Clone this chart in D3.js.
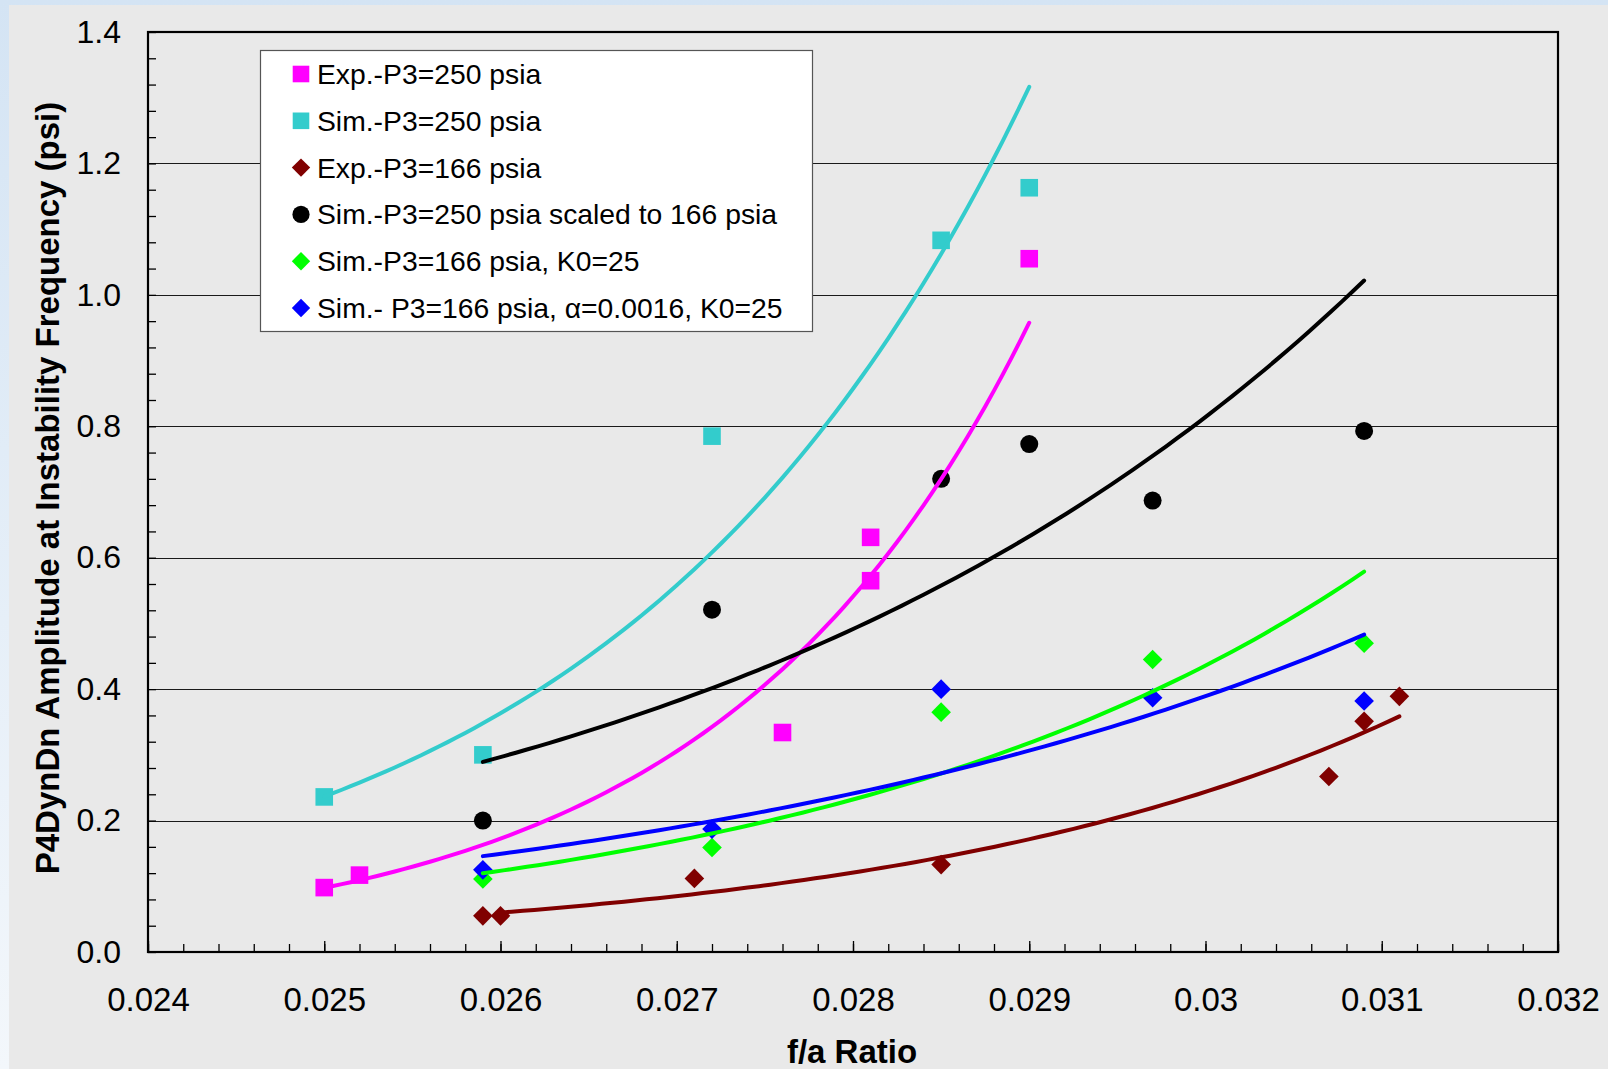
<!DOCTYPE html>
<html>
<head>
<meta charset="utf-8">
<script src="https://cdn.jsdelivr.net/npm/d3@7/dist/d3.min.js"></script>
<style>
  html, body { margin: 0; padding: 0; background: #dde9f5; }
  svg { display: block; font-family: Arial, "Liberation Sans", sans-serif; }
</style>
</head>
<body>
<svg id="chart" width="1608" height="1069"></svg>
<script>
// ---------------- data ----------------
const seriesNames = [
  "Exp.-P3=250 psia",
  "Sim.-P3=250 psia",
  "Exp.-P3=166 psia",
  "Sim.-P3=250 psia scaled to 166 psia",
  "Sim.-P3=166 psia, K0=25",
  "Sim.- P3=166 psia, \u03b1=0.0016, K0=25"
];
const seriesColors = ["#ff00ff", "#33cccc", "#800000", "#000000", "#00ff00", "#0000ff"];
const seriesSymbols = ["square", "square", "diamond", "circle", "diamond", "diamond"];

const exp250X = [0.0250, 0.0252, 0.0276, 0.0281, 0.0281, 0.0290];
const exp250Y = [0.098, 0.117, 0.334, 0.565, 0.631, 1.055];

const sim250X = [0.0250, 0.0259, 0.0272, 0.0285, 0.0290];
const sim250Y = [0.236, 0.300, 0.785, 1.083, 1.163];

const exp166X = [0.0259, 0.0260, 0.0271, 0.0285, 0.0307, 0.0309, 0.0311];
const exp166Y = [0.055, 0.055, 0.112, 0.133, 0.267, 0.351, 0.389];

const scaledX = [0.0259, 0.0272, 0.0285, 0.0290, 0.0297, 0.0309];
const scaledY = [0.200, 0.521, 0.720, 0.773, 0.687, 0.793];

const sim166K0X = [0.0259, 0.0272, 0.0285, 0.0297, 0.0309];
const sim166K0Y = [0.111, 0.159, 0.365, 0.445, 0.470];

const sim166AlphaX = [0.0259, 0.0272, 0.0285, 0.0297, 0.0309];
const sim166AlphaY = [0.125, 0.187, 0.400, 0.387, 0.382];

// x-extent of each exponential trendline as drawn in the picture
const trendRanges = [
  [0.0250, 0.0290],
  [0.0250, 0.0290],
  [0.0260, 0.0311],
  [0.0259, 0.0309],
  [0.0259, 0.0309],
  [0.0259, 0.0309]
];

const xTickValues = [0.024, 0.025, 0.026, 0.027, 0.028, 0.029, 0.030, 0.031, 0.032];
const xTickLabels = ["0.024", "0.025", "0.026", "0.027", "0.028", "0.029", "0.03", "0.031", "0.032"];
const yTickValues = [0.0, 0.2, 0.4, 0.6, 0.8, 1.0, 1.2, 1.4];
const yTickLabels = ["0.0", "0.2", "0.4", "0.6", "0.8", "1.0", "1.2", "1.4"];

const xTitle = "f/a Ratio";
const yTitle = "P4DynDn Amplitude at Instability Frequency (psi)";

// ---------------- build ----------------
const seriesX = [exp250X, sim250X, exp166X, scaledX, sim166K0X, sim166AlphaX];
const seriesY = [exp250Y, sim250Y, exp166Y, scaledY, sim166K0Y, sim166AlphaY];
const series = seriesNames.map((name, i) => ({
  name, color: seriesColors[i], symbol: seriesSymbols[i],
  points: seriesX[i].map((x, j) => ({ x, y: seriesY[i][j] })),
  range: trendRanges[i]
}));

const W = 1608, H = 1069;
const plot = { left: 148, right: 1558, top: 32, bottom: 952 };

const svg = d3.select("#chart");
const defs = svg.append("defs");
const grad = defs.append("linearGradient").attr("id", "bgGrad")
  .attr("x1", 0).attr("y1", 0).attr("x2", 0).attr("y2", 1);
grad.append("stop").attr("offset", "0%").attr("stop-color", "#d4e4f4");
grad.append("stop").attr("offset", "100%").attr("stop-color", "#f3f7fb");

svg.append("rect").attr("width", W).attr("height", H).attr("fill", "url(#bgGrad)");
svg.append("rect").attr("x", 9).attr("y", 5).attr("width", W - 9).attr("height", H - 5)
  .attr("fill", "#e9e9e9");

const x = d3.scaleLinear().domain([0.024, 0.032]).range([plot.left, plot.right]);
const y = d3.scaleLinear().domain([0, 1.4]).range([plot.bottom, plot.top]);

// gridlines
svg.append("g").selectAll("line")
  .data(yTickValues.filter(v => v > 0 && v < 1.4))
  .join("line")
  .attr("x1", plot.left).attr("x2", plot.right)
  .attr("y1", d => Math.round(y(d)) + 0.5).attr("y2", d => Math.round(y(d)) + 0.5)
  .attr("stroke", "#1a1a1a").attr("stroke-width", 1.2);

// minor ticks
const xMinor = d3.range(0, 41).map(i => 0.024 + i * 0.0002);
svg.append("g")
  .attr("transform", `translate(0,${plot.bottom})`)
  .call(d3.axisBottom(x).tickValues(xMinor).tickSize(-8).tickSizeOuter(0).tickFormat(""))
  .call(g => g.select(".domain").remove())
  .call(g => g.selectAll("line").attr("stroke", "#000").attr("stroke-width", 1.3));
const yMinor = d3.range(0, 36).map(i => i * 0.04);
svg.append("g")
  .attr("transform", `translate(${plot.left},0)`)
  .call(d3.axisLeft(y).tickValues(yMinor).tickSize(-8).tickSizeOuter(0).tickFormat(""))
  .call(g => g.select(".domain").remove())
  .call(g => g.selectAll("line").attr("stroke", "#000").attr("stroke-width", 1.3));

// major axes with labels
svg.append("g")
  .attr("transform", `translate(0,${plot.bottom})`)
  .call(d3.axisBottom(x).tickValues(xTickValues).tickSize(-11).tickSizeOuter(0).tickPadding(36)
    .tickFormat((d, i) => xTickLabels[i]))
  .call(g => g.select(".domain").remove())
  .call(g => g.selectAll("line").attr("stroke", "#000").attr("stroke-width", 1.3))
  .call(g => g.selectAll("text").attr("font-size", 33).attr("fill", "#000")
    .attr("font-family", "Arial, 'Liberation Sans', sans-serif"));

svg.append("g")
  .attr("transform", `translate(${plot.left},0)`)
  .call(d3.axisLeft(y).tickValues(yTickValues).tickSize(0).tickSizeOuter(0).tickPadding(27)
    .tickFormat((d, i) => yTickLabels[i]))
  .call(g => g.select(".domain").remove())
  .call(g => g.selectAll("text").attr("font-size", 32).attr("fill", "#000")
    .attr("font-family", "Arial, 'Liberation Sans', sans-serif"));

// plot frame
svg.append("rect")
  .attr("x", plot.left).attr("y", plot.top)
  .attr("width", plot.right - plot.left).attr("height", plot.bottom - plot.top)
  .attr("fill", "none").attr("stroke", "#000").attr("stroke-width", 2.2);

// marker shapes: square, circle and a square diamond (rotated square)
function symbolPath(sym, r) {
  if (sym === "square") return `M${-r},${-r}H${r}V${r}H${-r}Z`;
  if (sym === "diamond") return `M0,${-r}L${r},0L0,${r}L${-r},0Z`;
  return d3.symbol().type(d3.symbolCircle).size(Math.PI * r * r)();
}
const symR = { square: 8.8, circle: 9, diamond: 9.8 };
const legR = { square: 8.3, circle: 8.6, diamond: 9.2 };

// legend
const lg = { x: 260, y: 50, w: 552, h: 281 };
const legend = svg.append("g");
legend.append("rect").attr("x", lg.x + 0.5).attr("y", lg.y + 0.5)
  .attr("width", lg.w).attr("height", lg.h)
  .attr("fill", "#fff").attr("stroke", "#555").attr("stroke-width", 1.2);

series.forEach((s, i) => {
  const by = 84 + i * 46.8;
  legend.append("path")
    .attr("d", symbolPath(s.symbol, legR[s.symbol]))
    .attr("transform", `translate(301,${by - 10})`)
    .attr("fill", s.color);
  legend.append("text")
    .attr("x", 317).attr("y", by)
    .attr("font-size", 28.3).attr("fill", "#000")
    .text(s.name);
});

// markers
const plotG = svg.append("g");
series.forEach(s => {
  plotG.append("g").selectAll("path")
    .data(s.points)
    .join("path")
    .attr("d", symbolPath(s.symbol, symR[s.symbol]))
    .attr("transform", d => `translate(${x(d.x)},${y(d.y)})`)
    .attr("fill", s.color);
});

// exponential trendlines (least squares on ln y, as a spreadsheet does)
function fitExp(pts) {
  const mx = d3.mean(pts, p => p.x);
  const ml = d3.mean(pts, p => Math.log(p.y));
  let sxy = 0, sxx = 0;
  pts.forEach(p => { sxy += (p.x - mx) * (Math.log(p.y) - ml); sxx += (p.x - mx) ** 2; });
  const b = sxy / sxx;
  const lnA = ml - b * mx;
  return xv => Math.exp(lnA + b * xv);
}
const line = d3.line().x(d => x(d[0])).y(d => y(d[1]));
series.forEach(s => {
  const f = fitExp(s.points);
  const [x0, x1] = s.range;
  const n = 80;
  const curvePts = d3.range(n + 1).map(k => {
    const xv = x0 + (x1 - x0) * k / n;
    return [xv, f(xv)];
  });
  plotG.append("path")
    .attr("d", line(curvePts))
    .attr("fill", "none")
    .attr("stroke", s.color)
    .attr("stroke-width", 4)
    .attr("stroke-linecap", "round");
});

// axis titles
svg.append("text")
  .attr("x", 852).attr("y", 1063)
  .attr("text-anchor", "middle")
  .attr("font-size", 33).attr("font-weight", "bold").attr("fill", "#000")
  .text(xTitle);
svg.append("text")
  .attr("transform", "translate(59,488) rotate(-90)")
  .attr("text-anchor", "middle")
  .attr("font-size", 33).attr("font-weight", "bold").attr("fill", "#000")
  .text(yTitle);
</script>
</body>
</html>
